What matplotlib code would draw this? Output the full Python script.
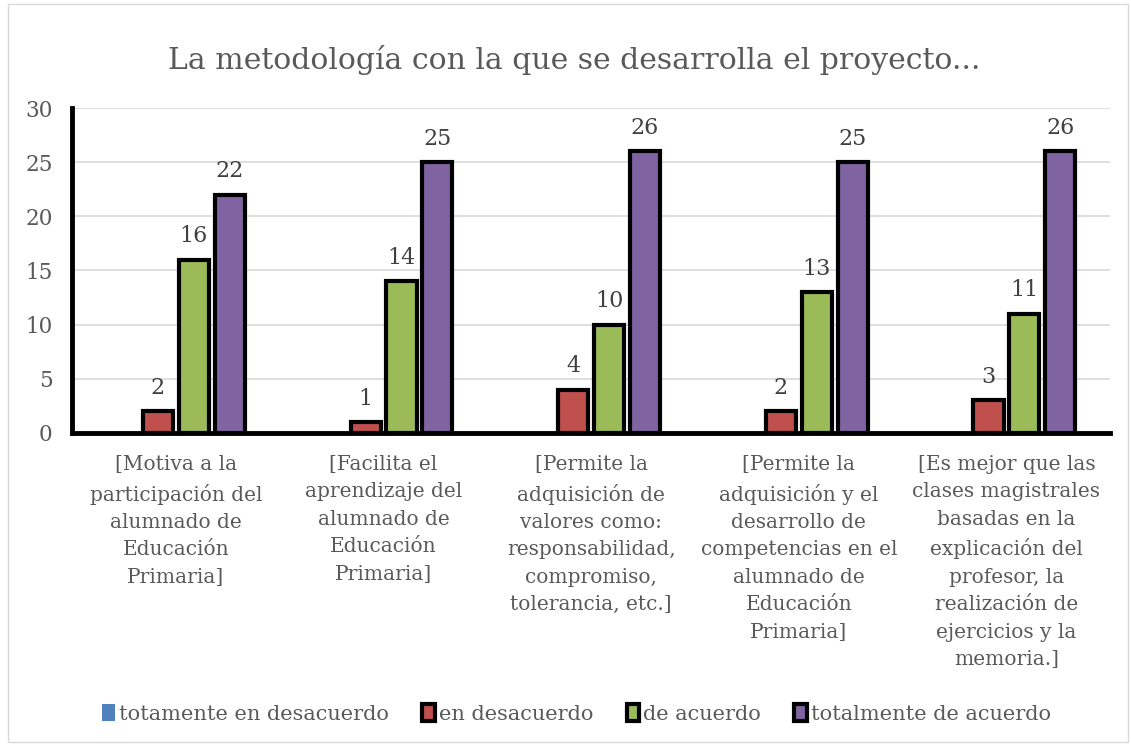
import matplotlib
matplotlib.use("Agg")
import matplotlib.pyplot as plt
import numpy as np
from matplotlib.patches import Rectangle

categories = [
    "[Motiva a la\nparticipación del\nalumnado de\nEducación\nPrimaria]",
    "[Facilita el\naprendizaje del\nalumnado de\nEducación\nPrimaria]",
    "[Permite la\nadquisición de\nvalores como:\nresponsabilidad,\ncompromiso,\ntolerancia, etc.]",
    "[Permite la\nadquisición y el\ndesarrollo de\ncompetencias en el\nalumnado de\nEducación\nPrimaria]",
    "[Es mejor que las\nclases magistrales\nbasadas en la\nexplicación del\nprofesor, la\nrealización de\nejercicios y la\nmemoria.]",
]
series_names = ["totamente en desacuerdo", "en desacuerdo", "de acuerdo", "totalmente de acuerdo"]
totamente_desacuerdo = [0, 0, 0, 0, 0]
en_desacuerdo = [2, 1, 4, 2, 3]
de_acuerdo = [16, 14, 10, 13, 11]
totalmente_acuerdo = [22, 25, 26, 25, 26]
series_values = [totamente_desacuerdo, en_desacuerdo, de_acuerdo, totalmente_acuerdo]
colors = ["#4F81BD", "#C0504D", "#9BBB59", "#8064A2"]
yticks = [0, 5, 10, 15, 20, 25, 30]

plt.rcParams['font.family'] = ['DejaVu Serif']
txt = "#595959"

fig = plt.figure(figsize=(11.31, 7.45), dpi=100)
fig.patches.append(Rectangle((0.007, 0.004), 0.99, 0.99, transform=fig.transFigure,
                             fill=False, edgecolor="#D9D9D9", linewidth=1))
ax = fig.add_axes([0.0637, 0.419, 0.918, 0.436])

x = np.arange(len(categories))
step = 0.173
width = 0.145
for i, (vals, c) in enumerate(zip(series_values, colors)):
    pos = x + (i - 1.5) * step
    if i == 0:
        ax.bar(pos, vals, width, color=c, label=series_names[i], linewidth=0)
    else:
        ax.bar(pos, vals, width, color=c, label=series_names[i],
               edgecolor="black", linewidth=3)
        for p, v in zip(pos, vals):
            ax.annotate(str(v), (p, v), xytext=(0, 9), textcoords="offset points",
                        ha="center", va="bottom", fontsize=16, color="#404040")

ax.set_xlim(-0.5, len(categories) - 0.5)
ax.set_ylim(0, 30)
ax.set_yticks(yticks)
ax.set_yticklabels([str(t) for t in yticks], fontsize=15.5, color=txt)
ax.set_xticks(x)
ax.set_xticklabels(categories, fontsize=14.5, color=txt, linespacing=1.56)
ax.tick_params(axis="y", length=0, pad=14)
ax.tick_params(axis="x", length=0, pad=16)
ax.grid(axis="y", color="#D9D9D9", linewidth=1.2)
ax.set_axisbelow(True)
for s in ["top", "right"]:
    ax.spines[s].set_visible(False)
ax.spines["left"].set_linewidth(3.5)
ax.spines["bottom"].set_linewidth(3.5)

fig.text(0.508, 0.92, "La metodología con la que se desarrolla el proyecto...",
         ha="center", va="center", fontsize=21.5, color=txt)

leg = fig.legend(loc="center", bbox_to_anchor=(0.51, 0.042), ncol=4, frameon=False,
                 fontsize=15, handlelength=0.6, handleheight=0.9, handletextpad=0.2,
                 columnspacing=1.6)
for t in leg.get_texts():
    t.set_color(txt)

fig.savefig("out.png", dpi=100)
